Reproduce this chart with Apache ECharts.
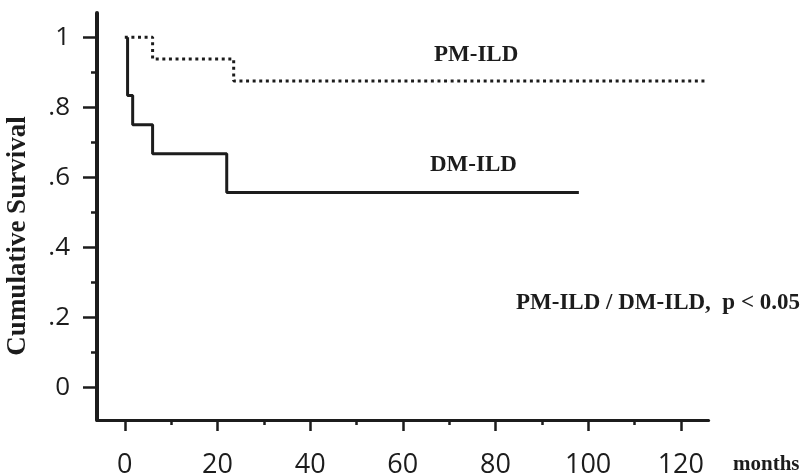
<!DOCTYPE html>
<html>
<head>
<meta charset="utf-8">
<script src="https://cdn.jsdelivr.net/npm/echarts@6/dist/echarts.min.js"></script>
<style>
html,body{margin:0;padding:0;background:#fff;}
#chart{width:806px;height:476px;}
</style>
</head>
<body>
<div id="chart"></div>
<script>
// Kaplan-Meier estimates (months, cumulative survival)
var pmMonths = [0, 6, 23.5, 125.5];
var pmSurvival = [1, 0.9375, 0.875, 0.875];
var dmMonths = [0.6, 0.6, 1.7, 6, 22, 98];
var dmSurvival = [1, 0.833, 0.75, 0.667, 0.556, 0.556];

var xMajorTicks = [0, 20, 40, 60, 80, 100, 120];
var xMinorTicks = [10, 30, 50, 70, 90, 110];
var yMajorTicks = [0, 0.2, 0.4, 0.6, 0.8, 1];
var yMinorTicks = [0.1, 0.3, 0.5, 0.7, 0.9];

var pmLabel = 'PM-ILD';
var dmLabel = 'DM-ILD';
var pText = 'PM-ILD / DM-ILD,  p < 0.05';
var xUnit = 'months';
var yTitle = 'Cumulative Survival';

function zip(a, b) { return a.map(function (v, i) { return [v, b[i]]; }); }
function yFmt(v) {
  if (Math.abs(v) < 1e-9) return '0';
  if (Math.abs(v - 1) < 1e-9) return '1';
  return '.' + Math.round(v * 10);
}

var ink = '#1c1c1c';
var tickFont = '"Open Sans", Lato, sans-serif';
var serif = '"Liberation Serif", "Times New Roman", serif';

var chart = echarts.init(document.getElementById('chart'), null, {renderer: 'canvas'});
var X_MIN = -6, X_MAX = 126, Y_MIN = -0.094, Y_MAX = 1.069;

chart.setOption({
  animation: false,
  backgroundColor: '#fff',
  grid: {left: 97, top: 13, right: 97.4, bottom: 56, containLabel: false, outerBoundsMode: 'none'},
  xAxis: [{
    type: 'value', min: X_MIN, max: X_MAX, position: 'bottom',
    axisLine: {show: true, onZero: false, lineStyle: {color: ink, width: 3}},
    axisTick: {show: true, customValues: xMajorTicks, length: 11, lineStyle: {color: ink, width: 2.5}},
    axisLabel: {show: true, customValues: xMajorTicks, margin: 45, color: ink,
      fontFamily: tickFont, fontSize: 27, verticalAlign: 'middle'},
    splitLine: {show: false}
  }, {
    type: 'value', min: X_MIN, max: X_MAX, position: 'bottom', gridIndex: 0,
    axisLine: {show: false, onZero: false},
    axisTick: {show: true, customValues: xMinorTicks, length: 5, lineStyle: {color: ink, width: 2.5}},
    axisLabel: {show: false},
    splitLine: {show: false}
  }],
  yAxis: [{
    type: 'value', min: Y_MIN, max: Y_MAX, position: 'left',
    axisLine: {show: true, onZero: false, lineStyle: {color: ink, width: 4}},
    axisTick: {show: true, customValues: yMajorTicks, length: 14, lineStyle: {color: ink, width: 2.5}},
    axisLabel: {show: true, customValues: yMajorTicks, margin: 27, color: ink,
      fontFamily: tickFont, fontSize: 26, formatter: yFmt},
    splitLine: {show: false}
  }, {
    type: 'value', min: Y_MIN, max: Y_MAX, position: 'left',
    axisLine: {show: false, onZero: false},
    axisTick: {show: true, customValues: yMinorTicks, length: 6, lineStyle: {color: ink, width: 2.5}},
    axisLabel: {show: false},
    splitLine: {show: false}
  }],
  series: [{
    name: pmLabel, type: 'line', step: 'end', xAxisIndex: 0, yAxisIndex: 0,
    data: zip(pmMonths, pmSurvival), showSymbol: false, symbol: 'none',
    lineStyle: {color: ink, width: 3, type: [3, 3.6], cap: 'butt'}
  }, {
    name: dmLabel, type: 'line', step: 'end', xAxisIndex: 0, yAxisIndex: 0,
    data: zip(dmMonths, dmSurvival), showSymbol: false, symbol: 'none',
    lineStyle: {color: ink, width: 3, type: 'solid'}
  }],
  graphic: [
    {type: 'text', x: 18, y: 236, rotation: Math.PI / 2,
      style: {text: yTitle, font: 'bold 27px ' + serif, fill: ink, align: 'center', verticalAlign: 'middle'}},
    {type: 'text', left: 434, top: 44, style: {text: pmLabel, font: 'bold 23px ' + serif, fill: ink}},
    {type: 'text', left: 430, top: 154, style: {text: dmLabel, font: 'bold 23px ' + serif, fill: ink}},
    {type: 'text', left: 516, top: 292, style: {text: pText, font: 'bold 23px ' + serif, fill: ink}},
    {type: 'text', left: 733, top: 454, style: {text: xUnit, font: 'bold 21px ' + serif, fill: ink}}
  ]
});
</script>
</body>
</html>
